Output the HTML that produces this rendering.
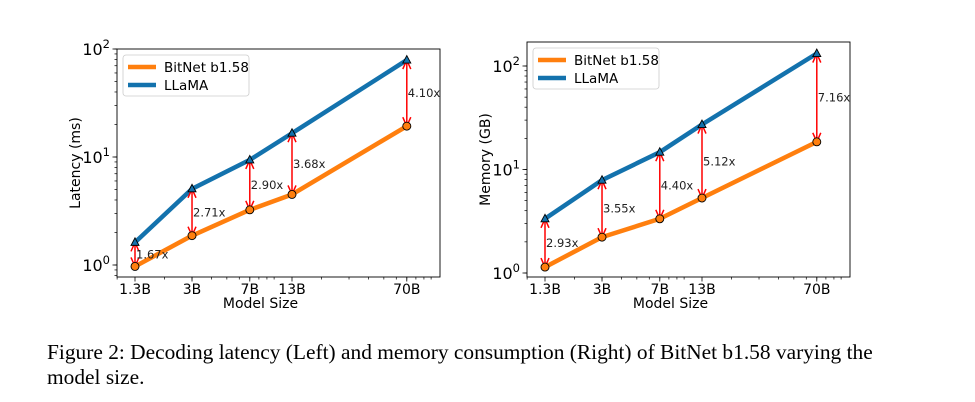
<!DOCTYPE html>
<html><head><meta charset="utf-8"><style>
body{margin:0;background:#fff;width:975px;height:402px;overflow:hidden}
svg{position:absolute;left:0;top:0}
.cap{position:absolute;left:47px;font-family:"Liberation Serif",serif;font-size:21.4px;color:#000;white-space:nowrap;line-height:25px}
</style></head><body>
<svg id="fig" width="975" height="402" font-family="DejaVu Sans, sans-serif"></svg>
<div class="cap" style="top:340px">Figure 2: Decoding latency (Left) and memory consumption (Right) of BitNet b1.58 varying the</div>
<div class="cap" style="top:365px">model size.</div>
<script>
const categories=["1.3B","3B","7B","13B","70B"];
const sizes=[1.3,3,7,13,70];
const latencyBitnet=[0.97,1.87,3.24,4.5,19.3];
const latencyLlama=[1.62,5.07,9.4,16.6,79];
const latencyRatio=["1.67x","2.71x","2.90x","3.68x","4.10x"];
const memoryBitnet=[1.14,2.22,3.34,5.3,18.5];
const memoryLlama=[3.34,7.89,14.7,27.2,132];
const memoryRatio=["2.93x","3.55x","4.40x","5.12x","7.16x"];
const yTickExps=[0,1,2];

const NS="http://www.w3.org/2000/svg";
const svg=document.getElementById('fig');
function mk(t,a,p){const e=document.createElementNS(NS,t);for(const k in a)e.setAttribute(k,a[k]);(p||svg).appendChild(e);return e;}
const L=Math.log10;
const BLUE='#1372ad',ORANGE='#ff7f0e';

function panel(cfg){
  const g=mk('g',{});
  
  
  const xs=v=>cfg.x0+(L(v)-L(1.3))*157;
  const ys=v=>cfg.y0-L(v)*cfg.dec;
  const bl=cfg.left,br=cfg.right,bt=cfg.top,bb=277;
  for(let d=1;d<=100;d*=10)for(let k=1;k<=9;k++){const v=k*d;const x=xs(v);if(x<bl||x>br)continue;
    const t=mk('line',{x1:x,x2:x,y1:bb,y2:bb+2.5,stroke:'#000','stroke-width':0.7},g);}
  for(let d=0.1;d<=100;d*=10)for(let k=1;k<=9;k++){const v=k*d;const y=ys(v);if(y<bt||y>bb)continue;
    const t=mk('line',{x1:bl-2.5,x2:bl,y1:y,y2:y,stroke:'#000','stroke-width':0.7},g);}
  yTickExps.forEach(e=>{const y=ys(Math.pow(10,e));
    const t=mk('line',{x1:bl-4.5,x2:bl,y1:y,y2:y,stroke:'#000','stroke-width':0.8},g);
    const tx=mk('text',{x:bl-7,y:y+6,'text-anchor':'end','font-size':16},g);
    tx.textContent='10';const s=mk('tspan',{'font-size':11.5,dy:-7},tx);s.textContent=String(e);});
  categories.forEach((c,i)=>{const x=xs(sizes[i]);
    const t=mk('line',{x1:x,x2:x,y1:bb,y2:bb+4.5,stroke:'#000','stroke-width':0.8},g);
    const tx=mk('text',{x:x,y:bb+17,'text-anchor':'middle','font-size':14},g);tx.textContent=c;});
  const xl=mk('text',{x:(bl+br)/2-18,y:bb+31,'text-anchor':'middle','font-size':14},g);xl.textContent='Model Size';
  const yl=mk('text',{x:0,y:0,'text-anchor':'middle','font-size':14,transform:`translate(${bl-37},${(bt+bb)/2}) rotate(-90)`},g);yl.textContent=cfg.ylabel;
  const pts=a=>a.map((v,i)=>xs(sizes[i])+','+ys(v)).join(' ');
  const lo=mk('polyline',{points:pts(cfg.bit),fill:'none',stroke:ORANGE,'stroke-width':4.5,'stroke-linejoin':'round'},g);
  const lb=mk('polyline',{points:pts(cfg.lla),fill:'none',stroke:BLUE,'stroke-width':4.5,'stroke-linejoin':'round'},g);
  cfg.bit.forEach((v,i)=>{const x=xs(sizes[i]),y1=ys(v),y2=ys(cfg.lla[i]);
    const ar=mk('g',{stroke:'#ff0000','stroke-width':1.5,fill:'none'},g);
    mk('line',{x1:x,x2:x,y1:y2,y2:y1},ar);
    mk('polyline',{points:`${x-4},${y1-9} ${x},${y1} ${x+4},${y1-9}`},ar);
    mk('polyline',{points:`${x-4},${y2+9} ${x},${y2} ${x+4},${y2+9}`},ar);
    const t=mk('text',{x:x+1,y:(y1+y2)/2+4,'font-size':11.5,fill:'#222'},g);t.textContent=cfg.ratio[i];});
  cfg.bit.forEach((v,i)=>{const m=mk('circle',{cx:xs(sizes[i]),cy:ys(v),r:4,fill:ORANGE,stroke:'#000','stroke-width':0.9},g);});
  cfg.lla.forEach((v,i)=>{const x=xs(sizes[i]),y=ys(v);const m=mk('polygon',{points:`${x},${y-4.5} ${x-4},${y+3} ${x+4},${y+3}`,fill:BLUE,stroke:'#000','stroke-width':0.9},g);});
  const fr=mk('rect',{x:bl,y:bt,width:br-bl,height:bb-bt,fill:'none',stroke:'#000','stroke-width':0.9},g);
  const lg=mk('g',{},g);
  const lx=bl+6,ly=bt+6;
  mk('rect',{x:lx,y:ly,width:126,height:41,rx:3,fill:'#fff','fill-opacity':0.8,stroke:'#ccc','stroke-width':0.8},lg);
  const e1=mk('g',{},lg);
  mk('line',{x1:lx+5,x2:lx+33,y1:ly+12,y2:ly+12,stroke:ORANGE,'stroke-width':4.5},e1);
  const t1=mk('text',{x:lx+41,y:ly+17,'font-size':13.5},e1);t1.textContent='BitNet b1.58';
  const e2=mk('g',{},lg);
  mk('line',{x1:lx+5,x2:lx+33,y1:ly+30,y2:ly+30,stroke:BLUE,'stroke-width':4.5},e2);
  const t2=mk('text',{x:lx+41,y:ly+35,'font-size':13.5},e2);t2.textContent='LLaMA';
}
panel({name:'latency-chart',x0:135,y0:265,dec:108,left:117,right:440,top:49,ylabel:'Latency (ms)',bit:latencyBitnet,lla:latencyLlama,ratio:latencyRatio});
panel({name:'memory-chart',x0:545,y0:273,dec:103.5,left:527,right:850,top:42,ylabel:'Memory (GB)',bit:memoryBitnet,lla:memoryLlama,ratio:memoryRatio});
</script>
</body></html>
